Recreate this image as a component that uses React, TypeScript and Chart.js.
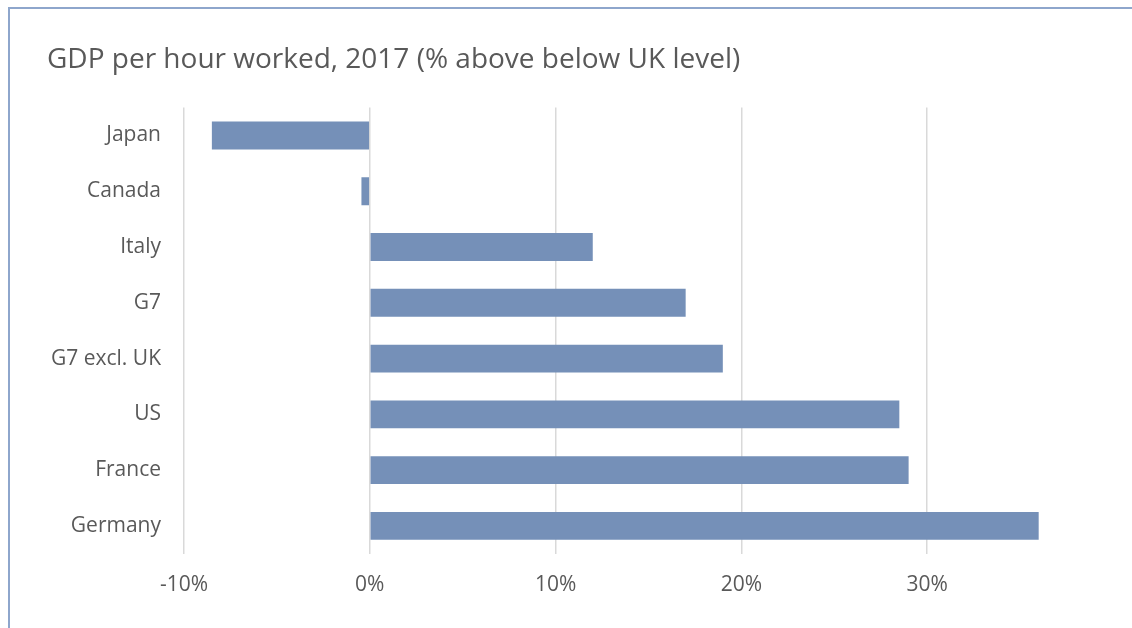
import React, { useEffect, useRef } from "react";
import { Chart, registerables } from "chart.js";

Chart.register(...registerables);

const categories = ["Japan", "Canada", "Italy", "G7", "G7 excl. UK", "US", "France", "Germany"];
const gdpVsUK = [-8.5, -0.45, 12.0, 17.0, 19.0, 28.5, 29.0, 36.0];
const titleText = "GDP per hour worked, 2017 (% above below UK level)";
const axisMin = -10;
const axisMax = 40;
const axisStep = 10;
const lastShownTick = 30;

export default function App() {
  const canvasRef = useRef<HTMLCanvasElement | null>(null);

  useEffect(() => {
    if (!canvasRef.current) return;
    const chart = new Chart(canvasRef.current, {
      type: "bar",
      data: {
        labels: categories,
        datasets: [
          {
            data: gdpVsUK,
            backgroundColor: "#7590b8",
            borderWidth: 0,
            categoryPercentage: 0.5,
            barPercentage: 1,
          },
        ],
      },
      options: {
        indexAxis: "y",
        animation: false,
        responsive: false,
        maintainAspectRatio: false,
        layout: { padding: { left: 47, right: 19, top: 0, bottom: 11 } },
        plugins: {
          legend: { display: false },
          tooltip: { enabled: false },
          title: {
            display: true,
            text: titleText,
            align: "start",
            color: "#595959",
            font: { family: "'Open Sans'", size: 28, weight: "normal" },
            padding: { top: 43, bottom: 31 },
          },
        },
        scales: {
          x: {
            min: axisMin,
            max: axisMax,
            afterBuildTicks: (scale: any) => {
              scale.ticks = scale.ticks.filter((t: any) => t.value <= lastShownTick + 0.001);
            },
            ticks: {
              stepSize: axisStep,
              color: "#595959",
              padding: 19,
              font: { family: "'Open Sans'", size: 21 },
              callback: (v: any) => `${Math.round(Number(v))}%`,
            },
            grid: { color: "#d9d9d9", lineWidth: 1.5, drawTicks: false },
            border: { display: false },
          },
          y: {
            afterFit: (scale: any) => {
              scale.width = 137;
            },
            ticks: {
              color: "#595959",
              padding: 23,
              font: { family: "'Open Sans'", size: 21 },
            },
            grid: { display: false, drawTicks: false },
            border: { display: false },
          },
        },
      },
    });
    return () => chart.destroy();
  }, []);

  return (
    <div
      style={{
        position: "fixed",
        left: 0,
        top: 0,
        width: 1132,
        height: 628,
        overflow: "hidden",
        background: "#ffffff",
      }}
    >
      <div
        style={{
          position: "absolute",
          left: 8,
          top: 7,
          width: 1200,
          height: 700,
          border: "2px solid #8ea6cc",
          boxSizing: "border-box",
          pointerEvents: "none",
        }}
      />
      <canvas
        ref={canvasRef}
        width={1132}
        height={628}
        style={{ position: "absolute", left: 0, top: 0, width: 1132, height: 628 }}
      />
    </div>
  );
}
